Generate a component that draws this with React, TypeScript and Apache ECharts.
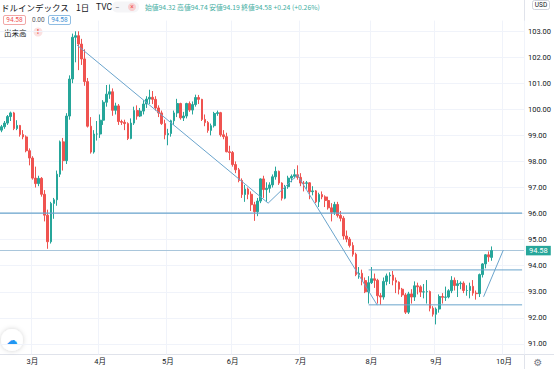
import React, { useEffect, useRef } from 'react';
import * as echarts from 'echarts';

// Daily candles, [open, high, low, close]
const febOHLC = [
  [99.2, 99.4, 99.12, 99.33], [99.33, 99.55, 99.25, 99.47], [99.47, 99.78, 99.4, 99.72],
  [99.72, 99.91, 99.55, 99.86], [99.86, 99.9, 99.2, 99.26], [99.26, 99.58, 99.2, 99.38],
  [99.38, 99.4, 98.95, 99.03], [99.03, 99.2, 98.85, 98.94], [98.94, 99.0, 98.35, 98.41],
  [98.41, 98.5, 97.85, 98.13],
];
const marOHLC = [
  [98.13, 98.2, 97.3, 97.36], [97.36, 97.8, 97.0, 97.15], [97.15, 97.45, 97.05, 97.35],
  [97.35, 97.4, 96.65, 96.74], [96.74, 96.9, 95.7, 95.94], [95.94, 96.15, 94.65, 94.92],
  [94.92, 96.45, 94.85, 96.39], [96.39, 96.6, 95.8, 96.53], [96.53, 97.65, 96.3, 97.51],
  [97.51, 98.8, 97.4, 98.75], [98.75, 98.9, 97.65, 98.03], [98.03, 99.85, 97.9, 99.74],
  [99.74, 101.3, 99.6, 101.16], [101.16, 102.9, 101.0, 102.76], [102.76, 102.99, 101.8, 102.82],
  [102.82, 102.99, 101.5, 102.5], [102.5, 102.7, 101.7, 101.93], [101.93, 102.3, 100.9, 101.06],
  [101.06, 101.2, 99.3, 99.35], [99.35, 99.7, 98.3, 98.36], [98.36, 99.2, 98.3, 99.05],
  [99.05, 99.55, 98.8, 99.05],
];
const aprOHLC = [
  [99.05, 99.8, 98.9, 99.58], [99.58, 100.35, 99.4, 100.27], [100.27, 100.93, 100.1, 100.58],
  [100.58, 100.95, 100.4, 100.67], [100.67, 100.8, 99.75, 99.96], [99.96, 100.25, 99.8, 100.13],
  [100.13, 100.2, 99.4, 99.53], [99.53, 99.6, 99.4, 99.5], [99.5, 99.6, 99.2, 99.45],
  [99.45, 99.5, 98.82, 98.88], [98.88, 99.65, 98.85, 99.47], [99.47, 100.1, 99.4, 99.95],
  [99.95, 100.15, 99.6, 99.74], [99.74, 100.05, 99.7, 99.93], [99.93, 100.35, 99.8, 100.2],
  [100.2, 100.5, 100.05, 100.39], [100.39, 100.75, 100.2, 100.46], [100.46, 100.7, 100.2, 100.38],
  [100.38, 100.5, 99.95, 100.05], [100.05, 100.15, 99.7, 99.86], [99.86, 99.95, 99.4, 99.45],
  [99.45, 99.6, 98.85, 99.02],
];
const mayOHLC = [
  [99.02, 99.25, 98.62, 99.07], [99.07, 99.6, 98.95, 99.56], [99.56, 99.95, 99.4, 99.86],
  [99.86, 100.4, 99.7, 100.22], [100.22, 100.25, 99.6, 99.67], [99.67, 99.9, 99.55, 99.74],
  [99.74, 100.25, 99.65, 100.22], [100.22, 100.3, 99.9, 99.97], [99.97, 100.3, 99.8, 100.18],
  [100.18, 100.56, 100.1, 100.45], [100.45, 100.55, 100.2, 100.38], [100.38, 100.4, 99.55, 99.61],
  [99.61, 99.8, 99.35, 99.49], [99.49, 99.55, 99.1, 99.19], [99.19, 99.45, 99.0, 99.37],
  [99.37, 99.9, 99.3, 99.84], [99.84, 99.95, 99.75, 99.87], [99.87, 99.9, 98.95, 99.02],
  [99.02, 99.2, 98.85, 98.95], [98.95, 99.1, 98.35, 98.37], [98.37, 98.6, 98.05, 98.34],
];
const junOHLC = [
  [98.34, 98.4, 97.8, 97.88], [97.88, 98.0, 97.55, 97.68], [97.68, 97.75, 97.2, 97.27],
  [97.27, 97.35, 96.6, 96.73], [96.73, 97.1, 96.45, 96.94], [96.94, 97.0, 96.55, 96.74],
  [96.74, 96.85, 96.1, 96.34], [96.34, 96.45, 95.72, 96.07], [96.07, 96.6, 95.9, 96.48],
  [96.48, 97.35, 96.4, 97.33], [97.33, 97.45, 96.6, 96.92], [96.92, 97.2, 96.45, 96.97],
  [96.97, 97.2, 96.8, 97.1], [97.1, 97.5, 97.0, 97.41], [97.41, 97.8, 97.3, 97.62],
  [97.62, 97.65, 97.1, 97.17], [97.17, 97.2, 96.5, 96.59], [96.59, 97.1, 96.55, 97.03],
  [97.03, 97.45, 96.95, 97.36], [97.36, 97.5, 97.2, 97.43], [97.43, 97.7, 97.35, 97.49],
  [97.49, 97.85, 97.3, 97.39],
];
const julOHLC = [
  [97.39, 97.55, 97.05, 97.17], [97.17, 97.25, 96.85, 97.16], [97.16, 97.25, 96.95, 97.18],
  [97.18, 97.2, 96.55, 96.84], [96.84, 97.05, 96.7, 96.87], [96.87, 96.9, 96.4, 96.45],
  [96.45, 96.8, 96.25, 96.73], [96.73, 96.85, 96.55, 96.64], [96.64, 96.7, 96.25, 96.5],
  [96.5, 96.65, 96.15, 96.22], [96.22, 96.4, 95.7, 96.05], [96.05, 96.45, 95.95, 96.35],
  [96.35, 96.45, 95.85, 95.93], [95.93, 96.1, 95.7, 95.82], [95.82, 95.9, 95.0, 95.14],
  [95.14, 95.35, 94.9, 95.02], [95.02, 95.1, 94.7, 94.78], [94.78, 94.9, 94.35, 94.44],
  [94.44, 94.5, 93.6, 93.66], [93.66, 93.95, 93.5, 93.71], [93.71, 93.85, 93.25, 93.43],
  [93.43, 93.55, 92.95, 93.0], [93.0, 93.6, 92.55, 93.35],
];
const augOHLC = [
  [93.35, 93.95, 93.3, 93.5], [93.5, 93.7, 93.15, 93.44], [93.44, 93.5, 92.55, 92.85],
  [92.85, 92.95, 92.5, 92.8], [92.8, 93.55, 92.7, 93.4], [93.4, 93.7, 93.25, 93.61],
  [93.61, 93.75, 93.3, 93.64], [93.64, 93.8, 93.25, 93.44], [93.44, 93.55, 92.95, 93.37],
  [93.37, 93.4, 92.9, 93.1], [93.1, 93.15, 92.8, 92.88], [92.88, 92.95, 92.15, 92.22],
  [92.22, 93.0, 92.15, 92.92], [92.92, 93.1, 92.55, 92.8], [92.8, 93.4, 92.65, 93.23],
  [93.23, 93.35, 92.9, 93.19], [93.19, 93.25, 92.8, 92.99], [92.99, 93.3, 92.75, 93.0],
  [93.0, 93.45, 92.55, 93.01], [93.01, 93.05, 92.25, 92.37], [92.37, 92.45, 92.05, 92.14],
];
const sepOHLC = [
  [92.14, 92.4, 91.75, 92.34], [92.34, 92.9, 92.2, 92.82], [92.82, 92.95, 92.55, 92.79],
  [92.79, 93.2, 92.65, 92.8], [92.8, 93.1, 92.75, 93.04], [93.04, 93.6, 92.95, 93.44],
  [93.44, 93.55, 93.05, 93.24], [93.24, 93.45, 92.8, 93.31], [93.31, 93.4, 93.1, 93.33],
  [93.33, 93.4, 92.95, 93.05], [93.05, 93.25, 92.85, 93.05], [93.05, 93.35, 92.75, 93.21],
  [93.21, 93.45, 92.85, 92.95], [92.95, 93.05, 92.7, 92.93], [92.93, 93.7, 92.8, 93.66],
  [93.66, 94.1, 93.55, 94.07], [94.07, 94.45, 93.9, 94.42], [94.42, 94.55, 94.15, 94.34],
  [94.32, 94.74, 94.19, 94.58],
];

// Axis ticks
const priceTicks = [91, 92, 93, 94, 95, 96, 97, 98, 99, 100, 101, 102, 103];
const lastPrice = 94.58;
const changeText = '+0.24 (+0.26%)';

// Hand-drawn annotation lines: [category index, price]
const trendLineA = [[24.5, 102.46], [86.5, 96.4], [96, 97.48], [121.9, 92.49]];
const trendLineB = [[156.4, 92.81], [162.8, 94.6]];
const level96 = [[-0.5, 96.02], [168.9, 96.02]];
const rangeTop = [[119.1, 93.84], [168.9, 93.84]];
const rangeBottom = [[119.1, 92.5], [168.9, 92.5]];

const START_DATE = Date.UTC(2020, 1, 17);
const N_CATS = 170; // trading days incl. empty right margin

function buildDates(): string[] {
  const out: string[] = [];
  let t = START_DATE;
  while (out.length < N_CATS) {
    const d = new Date(t);
    const wd = d.getUTCDay();
    if (wd !== 0 && wd !== 6) {
      out.push(
        `${d.getUTCFullYear()}-${String(d.getUTCMonth() + 1).padStart(2, '0')}-${String(d.getUTCDate()).padStart(2, '0')}`
      );
    }
    t += 86400000;
  }
  return out;
}

const UP = '#26a69a';
const DOWN = '#ef5350';
const DRAW = '#6aa4cc';
const FONT = "Roboto, 'Noto Sans CJK JP', sans-serif";
const JFONT = "'Noto Sans CJK JP', Roboto, sans-serif";

export default function App() {
  const ref = useRef<HTMLDivElement>(null);
  useEffect(() => {
    if (!ref.current) return;
    const chart = echarts.init(ref.current, undefined, { renderer: 'svg' });
    const dates = buildDates();
    const rows = [
      ...febOHLC, ...marOHLC, ...aprOHLC, ...mayOHLC,
      ...junOHLC, ...julOHLC, ...augOHLC, ...sepOHLC,
    ];
    const candles = rows.map((r) => [r[0], r[3], r[2], r[1]]);
    const isMonthStart = (i: number) =>
      i > 0 && dates[i].slice(5, 7) !== dates[i - 1].slice(5, 7);
    const last = rows[rows.length - 1];

    const drawLine = (name: string, data: number[][], width = 1) => ({
      name,
      type: 'line',
      xAxisIndex: 1,
      yAxisIndex: 0,
      data,
      symbol: 'none',
      showSymbol: false,
      silent: true,
      z: 4,
      lineStyle: { color: DRAW, width },
    });

    const t = (text: string, x: number, y: number, size: number, fill: string, family = JFONT, align = 'left', weight = 'normal') => ({
      type: 'text',
      x,
      y,
      silent: true,
      style: {
        text, fontSize: size, fill, fontFamily: family, fontWeight: weight,
        align, verticalAlign: 'middle', textAlign: align, textVerticalAlign: 'middle',
      },
    });

    const option: any = {
      animation: false,
      backgroundColor: '#ffffff',
      grid: { left: -2.5, right: 30, top: 20.6, bottom: 14.6, containLabel: false },
      xAxis: [
        {
          type: 'category',
          data: dates,
          boundaryGap: true,
          axisLine: { show: false },
          axisTick: { show: false },
          axisLabel: {
            interval: (i: number) => isMonthStart(i),
            formatter: (v: string) => `${parseInt(v.slice(5, 7), 10)}月`,
            fontSize: 7.5,
            color: '#131722',
            fontFamily: FONT,
            margin: 3,
          },
          splitLine: {
            show: true,
            interval: (i: number) => isMonthStart(i),
            lineStyle: { color: '#f0f3fa', width: 1 },
          },
        },
        { type: 'value', min: -0.5, max: N_CATS - 0.5, show: false },
      ],
      yAxis: {
        type: 'value',
        position: 'right',
        min: 90.6,
        max: 103.4,
        interval: 0.2,
        scale: true,
        axisLine: { show: false },
        axisTick: { show: false },
        splitLine: { show: false },
        axisLabel: {
          formatter: (v: number) =>
            priceTicks.some((p) => Math.abs(p - v) < 1e-6) ? v.toFixed(2) : '',
          fontSize: 7.5,
          color: '#131722',
          fontFamily: FONT,
          margin: 4,
        },
      },
      series: [
        {
          name: 'grid',
          type: 'line',
          data: [],
          silent: true,
          markLine: {
            silent: true,
            z: 1,
            symbol: ['none', 'none'],
            label: { show: false },
            lineStyle: { color: '#f0f3fa', width: 1, type: 'solid' },
            data: priceTicks.map((p) => ({ yAxis: p })),
          },
        },
        {
          name: 'DXY',
          type: 'candlestick',
          data: candles,
          barWidth: 2.2,
          z: 3,
          itemStyle: { color: UP, color0: DOWN, borderColor: UP, borderColor0: DOWN, borderWidth: 1 },
          markLine: {
            silent: true,
            z: 2,
            symbol: ['none', 'none'],
            lineStyle: { color: '#a9c6db', width: 1, type: 'solid' },
            label: {
              show: true,
              position: 'end',
              formatter: lastPrice.toFixed(2),
              backgroundColor: UP,
              color: '#ffffff',
              fontSize: 7.5,
              fontFamily: FONT,
              padding: [1, 3, 1, 3],
              distance: 2,
            },
            data: [{ yAxis: lastPrice }],
          },
        },
        drawLine('trendA', trendLineA),
        drawLine('trendB', trendLineB),
        drawLine('level96', level96, 1.2),
        drawLine('rangeTop', rangeTop),
        drawLine('rangeBottom', rangeBottom),
      ],
      graphic: [
        { type: 'line', silent: true, shape: { x1: 524.5, y1: 0, x2: 524.5, y2: 369 }, style: { stroke: '#e0e3eb', lineWidth: 1 } },
        { type: 'line', silent: true, shape: { x1: 0, y1: 354.5, x2: 554, y2: 354.5 }, style: { stroke: '#e0e3eb', lineWidth: 1 } },
        t('ドルインデックス', 1, 7, 8.5, '#131722'),
        t('1日', 76, 7, 8.5, '#131722'),
        t('TVC', 96, 7, 8.5, '#131722', FONT),
        { type: 'rect', silent: true, shape: { x: 112, y: 1.5, width: 27, height: 11, r: 5 }, style: { fill: '#f5f5f7' } },
        t('−', 115, 7, 8, '#787b86', FONT),
        { type: 'circle', silent: true, shape: { cx: 132, cy: 7, r: 4 }, style: { fill: '#f8cfd0' } },
        t('×', 132, 7, 6.5, '#ef5350', FONT, 'center'),
        {
          type: 'text', x: 145, y: 7, silent: true,
          style: {
            text: `始値${last[0].toFixed(2)} 高値${last[1].toFixed(2)} 安値${last[2].toFixed(2)} 終値${last[3].toFixed(2)} ${changeText}`,
            fontSize: 6.8, fill: '#3fae9f', fontFamily: JFONT,
            align: 'left', verticalAlign: 'middle', textAlign: 'left', textVerticalAlign: 'middle',
          },
        },
        { type: 'rect', silent: true, shape: { x: 3.5, y: 15.5, width: 22, height: 9, r: 1.5 }, style: { fill: '#fff', stroke: '#f1a7a6', lineWidth: 1 } },
        t(lastPrice.toFixed(2), 14.5, 20, 6.5, DOWN, FONT, 'center'),
        t('0.00', 32, 20, 6.5, '#555a66', FONT),
        { type: 'rect', silent: true, shape: { x: 48.5, y: 15.5, width: 22, height: 9, r: 1.5 }, style: { fill: '#fff', stroke: '#8fbde3', lineWidth: 1 } },
        t(lastPrice.toFixed(2), 59.5, 20, 6.5, '#3d8fd4', FONT, 'center'),
        t('出来高', 4, 32, 7.5, '#131722'),
        { type: 'circle', silent: true, shape: { cx: 38, cy: 32, r: 4.5 }, style: { fill: '#fbe1e1' } },
        t('!', 38, 32, 7, '#ef5350', FONT, 'center', 'bold'),
        { type: 'rect', silent: true, shape: { x: 532.5, y: 0.5, width: 17, height: 9, r: 2 }, style: { fill: '#fff', stroke: '#d1d4dc', lineWidth: 1 } },
        t('USD', 541, 5, 6.5, '#131722', FONT, 'center'),
        { type: 'circle', silent: true, shape: { cx: 12, cy: 340, r: 11 }, style: { fill: '#ffffff', shadowBlur: 5, shadowColor: 'rgba(0,0,0,0.18)' } },
        t('☁', 12, 340, 11, '#2196f3', "'DejaVu Sans'", 'center'),
        t('⚙', 538, 362, 10, '#787b86', "'DejaVu Sans'", 'center'),
      ],
    };
    chart.setOption(option);
    return () => chart.dispose();
  }, []);
  return (
    <div style={{ position: 'fixed', left: 0, top: 0, width: 554, height: 369, background: '#fff' }}>
      <div ref={ref} style={{ width: 554, height: 369 }} />
    </div>
  );
}
